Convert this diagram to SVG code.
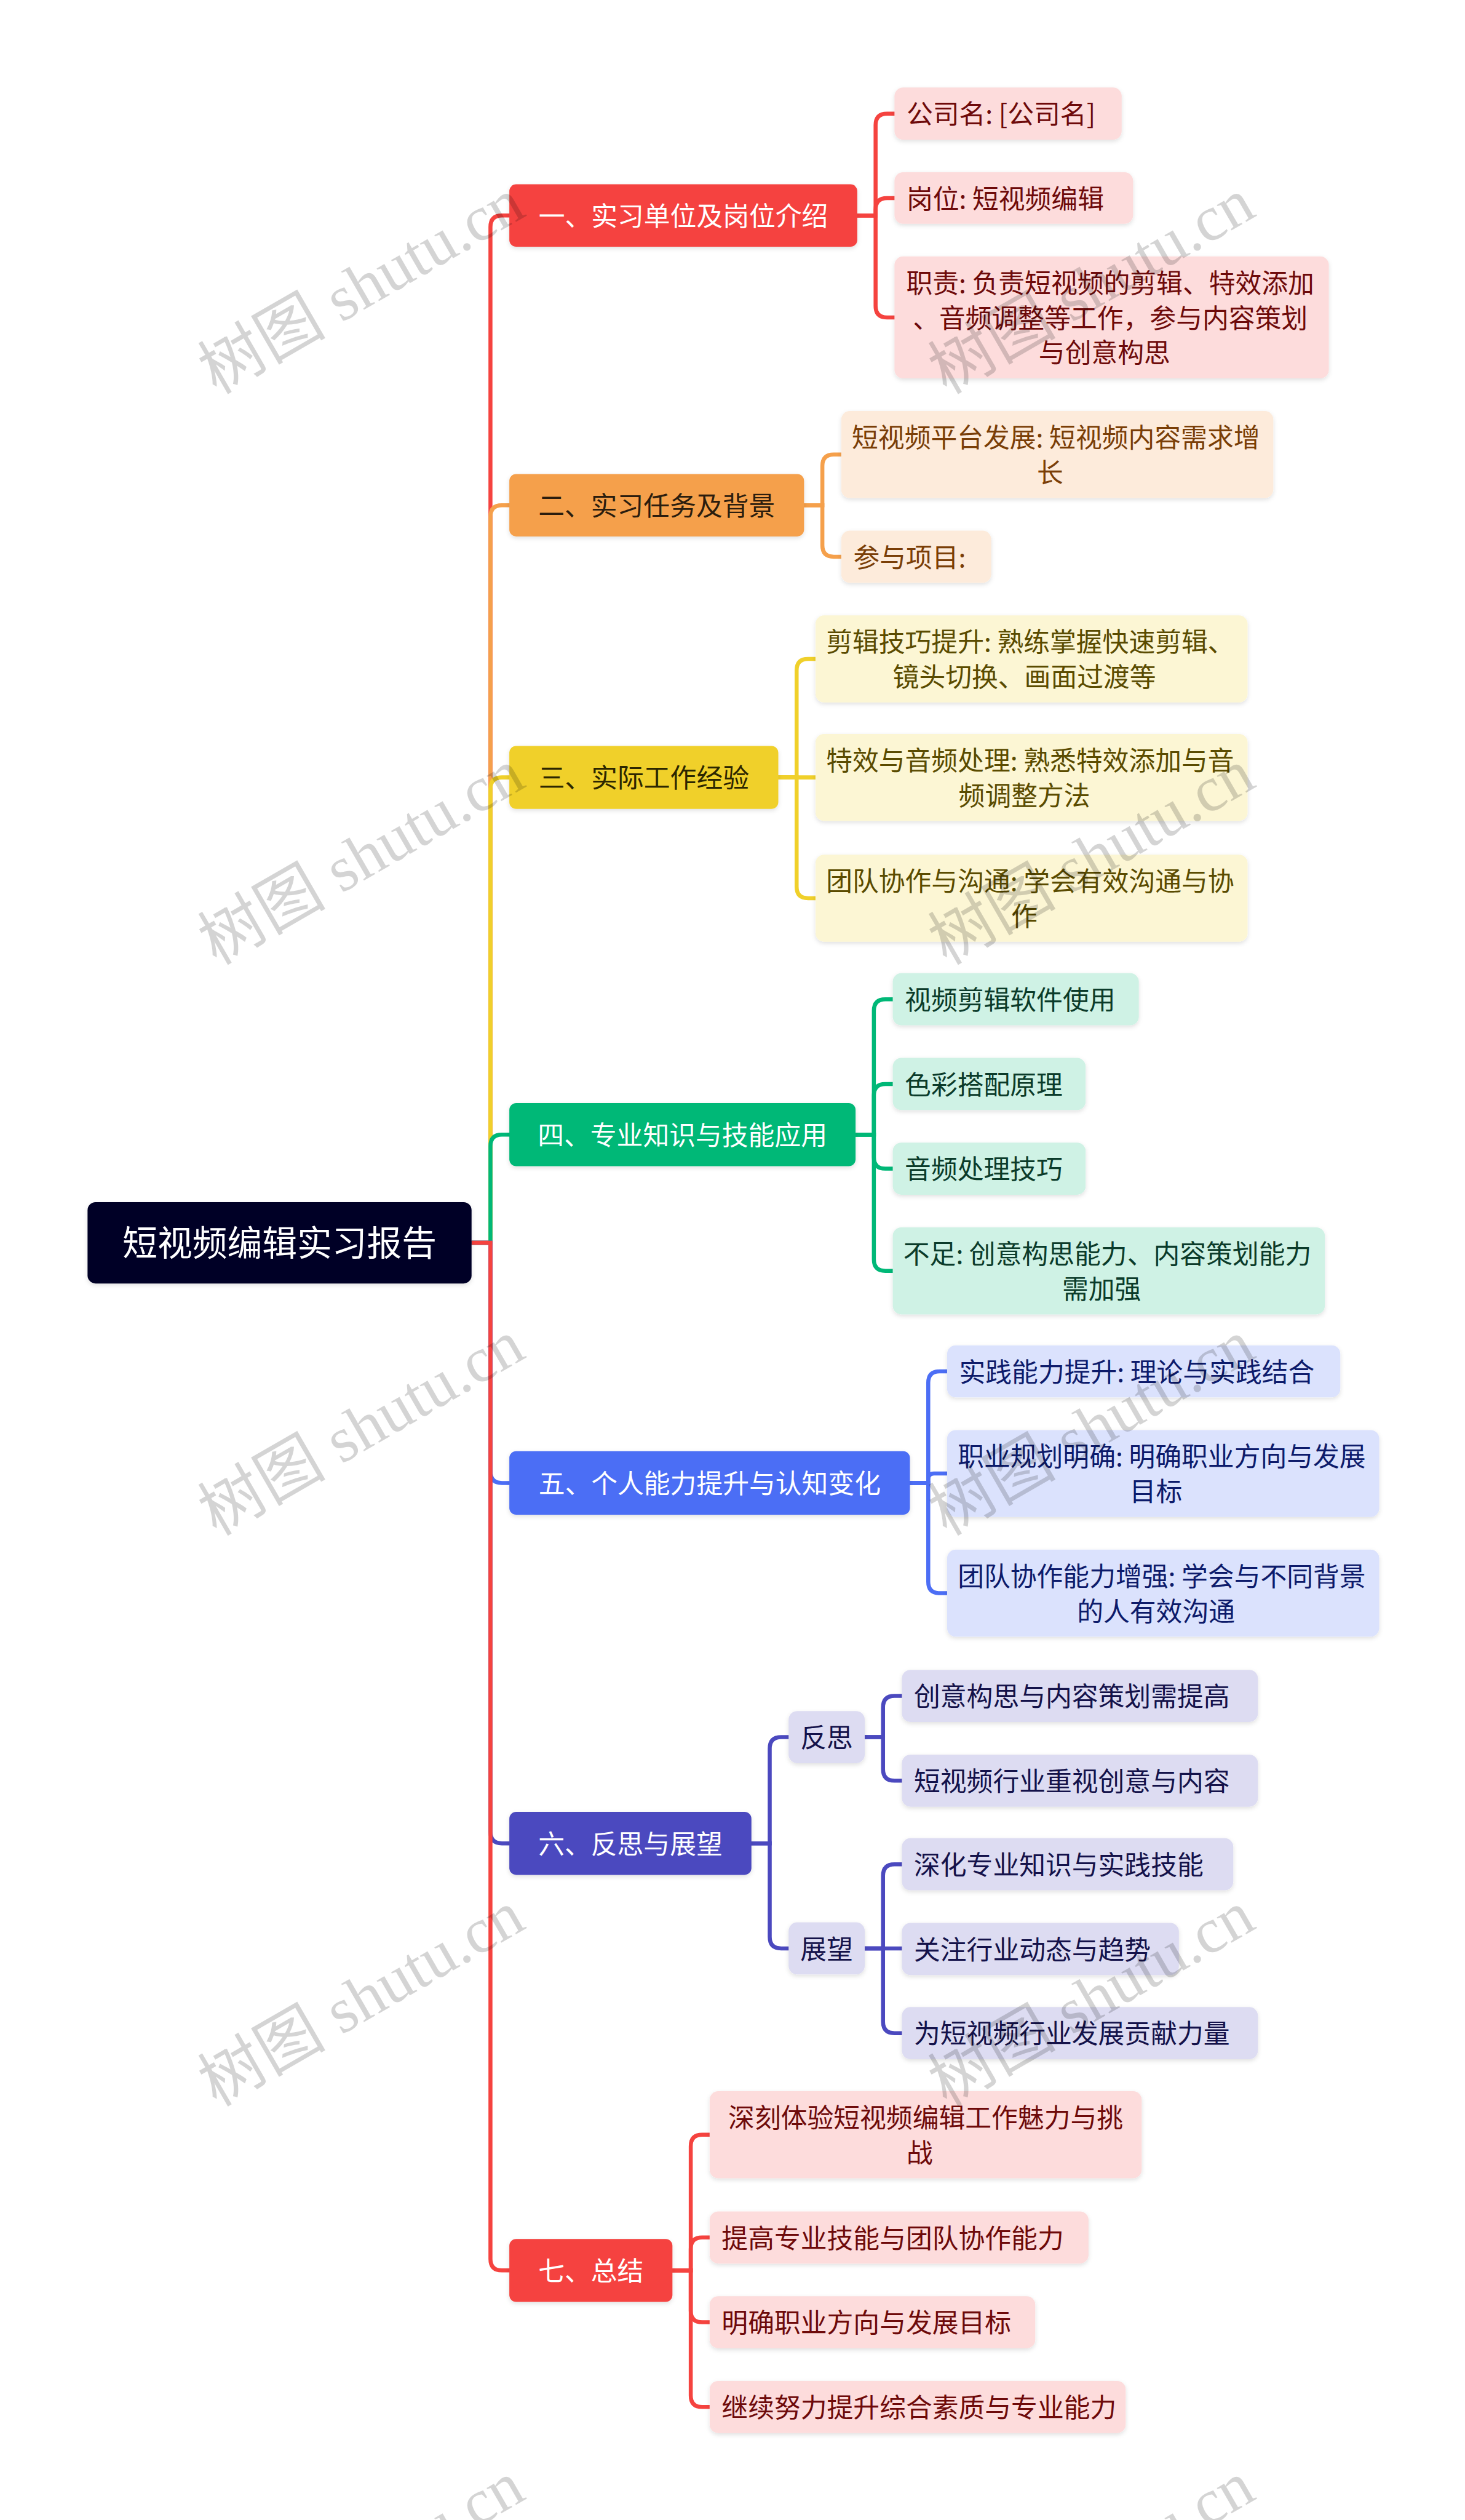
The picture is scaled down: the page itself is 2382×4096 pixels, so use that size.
<svg xmlns="http://www.w3.org/2000/svg" width="2382" height="4096" viewBox="0 0 2382 4096">
<defs>
<filter id="sh" x="-10%" y="-20%" width="120%" height="150%">
<feDropShadow dx="0" dy="3" stdDeviation="4" flood-color="#000" flood-opacity="0.12"/>
</filter>
<style>
text{font-family:"Noto Sans CJK SC","Noto Sans",sans-serif;font-size:46px}
.c{text-anchor:middle}
.root text{font-size:61px;fill:#ffffff}
.w{fill:#ffffff}
.br rect{rx:12px;ry:12px;filter:url(#sh)}
.lf rect{rx:15px;ry:15px;filter:url(#sh)}
.con path{fill:none;stroke-width:7}
.red rect{fill:#FDDCDC}.red text{fill:#6E0A0A}
.org rect{fill:#FDEBDB}.org text{fill:#7A3E07}
.yel rect{fill:#FCF6D4}.yel text{fill:#5A4B00}
.grn rect{fill:#CFF2E5}.grn text{fill:#0B3B2A}
.blu rect{fill:#DBE2FD}.blu text{fill:#0D1B6B}
.pur rect{fill:#DDDCF2}.pur text{fill:#14124A}
.wm{font-family:"Liberation Serif","Noto Sans CJK SC",serif;font-size:112px;fill:#000;fill-opacity:0.17}
</style>
</defs>
<rect x="0" y="0" width="2382" height="4096" fill="#ffffff"/>
<g transform="scale(0.9305)">
<g class="con" id="connectors">
<path stroke="#F5433F" d="M824 2171 H857 V396.5 Q857 376.5 877 376.5 H892"/>
<path stroke="#F5A04B" d="M824 2171 H857 V902.5 Q857 882.5 877 882.5 H892"/>
<path stroke="#F0D02A" d="M824 2171 H857 V1378 Q857 1358 877 1358 H892"/>
<path stroke="#00B877" d="M824 2171 H857 V2002 Q857 1982 877 1982 H892"/>
<path stroke="#4C6EF5" d="M824 2171 H857 V2570.5 Q857 2590.5 877 2590.5 H892"/>
<path stroke="#4B49BF" d="M824 2171 H857 V3200 Q857 3220 877 3220 H892"/>
<path stroke="#F5433F" d="M824 2171 H857 V3946 Q857 3966 877 3966 H892"/>
<path stroke="#F5433F" d="M1496 376.5 H1530 V218.5 Q1530 198.5 1550 198.5 H1565"/>
<path stroke="#F5433F" d="M1496 376.5 H1530 V366 Q1530 346 1550 346 H1565"/>
<path stroke="#F5433F" d="M1496 376.5 H1530 V534.5 Q1530 554.5 1550 554.5 H1565"/>
<path stroke="#F5A04B" d="M1403 882.5 H1437 V814 Q1437 794 1457 794 H1472"/>
<path stroke="#F5A04B" d="M1403 882.5 H1437 V952.5 Q1437 972.5 1457 972.5 H1472"/>
<path stroke="#F0D02A" d="M1358 1358 H1392 V1171 Q1392 1151 1412 1151 H1427"/>
<path stroke="#F0D02A" d="M1358 1358 H1427"/>
<path stroke="#F0D02A" d="M1358 1358 H1392 V1549 Q1392 1569 1412 1569 H1427"/>
<path stroke="#00B877" d="M1493 1982 H1527 V1765.5 Q1527 1745.5 1547 1745.5 H1562"/>
<path stroke="#00B877" d="M1493 1982 H1527 V1913.5 Q1527 1893.5 1547 1893.5 H1562"/>
<path stroke="#00B877" d="M1493 1982 H1527 V2021.5 Q1527 2041.5 1547 2041.5 H1562"/>
<path stroke="#00B877" d="M1493 1982 H1527 V2200 Q1527 2220 1547 2220 H1562"/>
<path stroke="#4C6EF5" d="M1588 2590.5 H1622 V2415.5 Q1622 2395.5 1642 2395.5 H1657"/>
<path stroke="#4C6EF5" d="M1588 2590.5 H1622 V2584 Q1622 2574 1632 2574 H1657"/>
<path stroke="#4C6EF5" d="M1588 2590.5 H1622 V2763 Q1622 2783 1642 2783 H1657"/>
<path stroke="#4B49BF" d="M1311 3220 H1345 V3054.5 Q1345 3034.5 1365 3034.5 H1380"/>
<path stroke="#4B49BF" d="M1311 3220 H1345 V3383.5 Q1345 3403.5 1365 3403.5 H1380"/>
<path stroke="#4B49BF" d="M1509 3034.5 H1543 V2982.5 Q1543 2962.5 1563 2962.5 H1578"/>
<path stroke="#4B49BF" d="M1509 3034.5 H1543 V3090.5 Q1543 3110.5 1563 3110.5 H1578"/>
<path stroke="#4B49BF" d="M1509 3403.5 H1543 V3276.5 Q1543 3256.5 1563 3256.5 H1578"/>
<path stroke="#4B49BF" d="M1509 3403.5 H1578"/>
<path stroke="#4B49BF" d="M1509 3403.5 H1543 V3531.5 Q1543 3551.5 1563 3551.5 H1578"/>
<path stroke="#F5433F" d="M1173 3966 H1207 V3749 Q1207 3729 1227 3729 H1242"/>
<path stroke="#F5433F" d="M1173 3966 H1207 V3928.5 Q1207 3908.5 1227 3908.5 H1242"/>
<path stroke="#F5433F" d="M1173 3966 H1207 V4036.5 Q1207 4056.5 1227 4056.5 H1242"/>
<path stroke="#F5433F" d="M1173 3966 H1207 V4184.5 Q1207 4204.5 1227 4204.5 H1242"/>
</g>

<g id="root" class="root">
<rect x="153" y="2100" width="671" height="142" rx="14" fill="#020427" filter="url(#sh)"/>
<text class="c" x="488.5" y="2193">短视频编辑实习报告</text>
</g>

<g id="b1" class="br"><rect x="890" y="322" width="608" height="109" fill="#F5433F"/><text class="c w" x="1194" y="394.5">一、实习单位及岗位介绍</text></g>
<g id="b2" class="br"><rect x="890" y="828" width="515" height="109" fill="#F5A04B"/><text class="c" x="1147.5" y="900.5" fill="#2B1D0E">二、实习任务及背景</text></g>
<g id="b3" class="br"><rect x="890" y="1303" width="470" height="110" fill="#F0D02A"/><text class="c" x="1125" y="1376" fill="#2C2600">三、实际工作经验</text></g>
<g id="b4" class="br"><rect x="890" y="1927" width="605" height="110" fill="#00B877"/><text class="c w" x="1192.5" y="2000">四、专业知识与技能应用</text></g>
<g id="b5" class="br"><rect x="890" y="2535" width="700" height="111" fill="#4C6EF5"/><text class="c w" x="1240" y="2608.5">五、个人能力提升与认知变化</text></g>
<g id="b6" class="br"><rect x="890" y="3165" width="423" height="110" fill="#4B49BF"/><text class="c w" x="1101.5" y="3238">六、反思与展望</text></g>
<g id="b7" class="br"><rect x="890" y="3911" width="285" height="110" fill="#F5433F"/><text class="c w" x="1032.5" y="3984">七、总结</text></g>

<g id="l1a" class="lf red"><rect x="1563" y="153" width="397" height="91"/><text x="1584" y="216.5">公司名: [公司名]</text></g>
<g id="l1b" class="lf red"><rect x="1563" y="301" width="417" height="90"/><text x="1584" y="364">岗位: 短视频编辑</text></g>
<g id="l1c" class="lf red"><rect x="1563" y="448" width="759" height="213"/><text class="c" x="1940" y="511.5">职责: 负责短视频的剪辑、特效添加<tspan x="1940" dy="61">、音频调整等工作，参与内容策划</tspan><tspan x="1930" dy="61">与创意构思</tspan></text></g>

<g id="l2a" class="lf org"><rect x="1470" y="718" width="755" height="152"/><text class="c" x="1845" y="781.5">短视频平台发展: 短视频内容需求增<tspan x="1835" dy="61">长</tspan></text></g>
<g id="l2b" class="lf org"><rect x="1470" y="927" width="262" height="91"/><text x="1491" y="990.5">参与项目:</text></g>

<g id="l3a" class="lf yel"><rect x="1425" y="1075" width="755" height="152"/><text class="c" x="1800" y="1138.5">剪辑技巧提升: 熟练掌握快速剪辑、<tspan x="1790" dy="61">镜头切换、画面过渡等</tspan></text></g>
<g id="l3b" class="lf yel"><rect x="1425" y="1282" width="755" height="152"/><text class="c" x="1800" y="1345.5">特效与音频处理: 熟悉特效添加与音<tspan x="1790" dy="61">频调整方法</tspan></text></g>
<g id="l3c" class="lf yel"><rect x="1425" y="1493" width="755" height="152"/><text class="c" x="1800" y="1556.5">团队协作与沟通: 学会有效沟通与协<tspan x="1790" dy="61">作</tspan></text></g>

<g id="l4a" class="lf grn"><rect x="1560" y="1700" width="430" height="91"/><text x="1581" y="1763.5">视频剪辑软件使用</text></g>
<g id="l4b" class="lf grn"><rect x="1560" y="1848" width="337" height="91"/><text x="1581" y="1911.5">色彩搭配原理</text></g>
<g id="l4c" class="lf grn"><rect x="1560" y="1996" width="337" height="91"/><text x="1581" y="2059.5">音频处理技巧</text></g>
<g id="l4d" class="lf grn"><rect x="1560" y="2144" width="755" height="152"/><text class="c" x="1935" y="2207.5">不足: 创意构思能力、内容策划能力<tspan x="1925" dy="61">需加强</tspan></text></g>

<g id="l5a" class="lf blu"><rect x="1655" y="2350" width="687" height="91"/><text x="1676" y="2413.5">实践能力提升: 理论与实践结合</text></g>
<g id="l5b" class="lf blu"><rect x="1655" y="2498" width="755" height="152"/><text class="c" x="2030" y="2561.5">职业规划明确: 明确职业方向与发展<tspan x="2020" dy="61">目标</tspan></text></g>
<g id="l5c" class="lf blu"><rect x="1655" y="2707" width="755" height="152"/><text class="c" x="2030" y="2770.5">团队协作能力增强: 学会与不同背景<tspan x="2020" dy="61">的人有效沟通</tspan></text></g>

<g id="s6a" class="lf pur"><rect x="1378" y="2989" width="133" height="91"/><text class="c" x="1444.5" y="3052.5">反思</text></g>
<g id="s6b" class="lf pur"><rect x="1378" y="3358" width="133" height="91"/><text class="c" x="1444.5" y="3421.5">展望</text></g>
<g id="l6a" class="lf pur"><rect x="1576" y="2917" width="622" height="91"/><text x="1597" y="2980.5">创意构思与内容策划需提高</text></g>
<g id="l6b" class="lf pur"><rect x="1576" y="3065" width="622" height="91"/><text x="1597" y="3128.5">短视频行业重视创意与内容</text></g>
<g id="l6c" class="lf pur"><rect x="1576" y="3211" width="579" height="91"/><text x="1597" y="3274.5">深化专业知识与实践技能</text></g>
<g id="l6d" class="lf pur"><rect x="1576" y="3359" width="484" height="91"/><text x="1597" y="3422.5">关注行业动态与趋势</text></g>
<g id="l6e" class="lf pur"><rect x="1576" y="3506" width="622" height="91"/><text x="1597" y="3569.5">为短视频行业发展贡献力量</text></g>

<g id="l7a" class="lf red"><rect x="1240" y="3653" width="755" height="152"/><text class="c" x="1617.5" y="3716.5">深刻体验短视频编辑工作魅力与挑<tspan x="1607" dy="61">战</tspan></text></g>
<g id="l7b" class="lf red"><rect x="1240" y="3863" width="662" height="91"/><text x="1261" y="3926.5">提高专业技能与团队协作能力</text></g>
<g id="l7c" class="lf red"><rect x="1240" y="4011" width="569" height="91"/><text x="1261" y="4074.5">明确职业方向与发展目标</text></g>
<g id="l7d" class="lf red"><rect x="1240" y="4159" width="727" height="91"/><text x="1261" y="4222.5">继续努力提升综合素质与专业能力</text></g>

<g id="watermarks">
<text class="wm" x="378" y="690" transform="rotate(-30 378 690)">树图 shutu.cn</text>
<text class="wm" x="1654" y="690" transform="rotate(-30 1654 690)">树图 shutu.cn</text>
<text class="wm" x="378" y="1687" transform="rotate(-30 378 1687)">树图 shutu.cn</text>
<text class="wm" x="1654" y="1687" transform="rotate(-30 1654 1687)">树图 shutu.cn</text>
<text class="wm" x="378" y="2684" transform="rotate(-30 378 2684)">树图 shutu.cn</text>
<text class="wm" x="1654" y="2684" transform="rotate(-30 1654 2684)">树图 shutu.cn</text>
<text class="wm" x="378" y="3681" transform="rotate(-30 378 3681)">树图 shutu.cn</text>
<text class="wm" x="1654" y="3681" transform="rotate(-30 1654 3681)">树图 shutu.cn</text>
<text class="wm" x="378" y="4678" transform="rotate(-30 378 4678)">树图 shutu.cn</text>
<text class="wm" x="1654" y="4678" transform="rotate(-30 1654 4678)">树图 shutu.cn</text>
</g>
</g>
</svg>
